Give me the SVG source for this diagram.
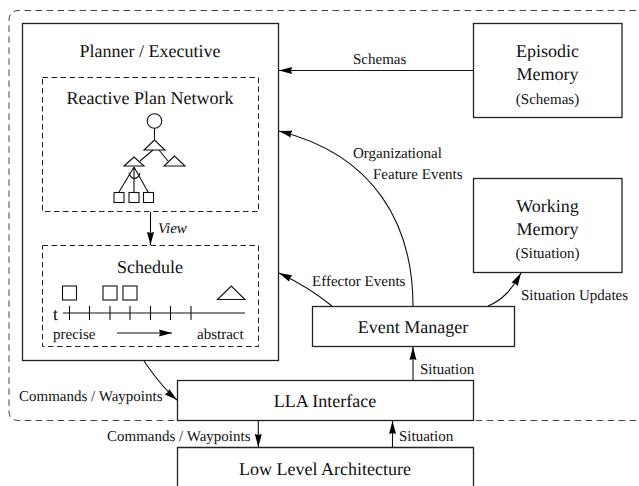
<svg xmlns="http://www.w3.org/2000/svg" width="639" height="486" viewBox="0 0 639 486">
<defs>
<marker id="a" markerUnits="userSpaceOnUse" markerWidth="14" markerHeight="8" refX="13" refY="4" orient="auto"><path d="M0 .5 L13 4 L0 7.500 L1 4Z" fill="#000"/></marker>
</defs>
<style>
text{font-family:"Liberation Serif","Times New Roman",serif;fill:#111;text-rendering:geometricPrecision}
.n{fill:#fff;stroke:#222;stroke-width:1.3}
.d{fill:none;stroke:#222;stroke-width:1;stroke-dasharray:5.5 3.500}
.o{fill:none;stroke:#444;stroke-width:1;stroke-dasharray:6.500 4.500}
.l{font-size:18px;text-anchor:middle}
.s{font-size:15px}
.m{font-size:15px;text-anchor:middle}
.c{fill:none;stroke:#111;stroke-width:1.1}
.g{fill:#fff;stroke:#111;stroke-width:1.1}
</style>
<path id="outer-boundary" d="M636 10.500H19Q9 10.500 9 20.500V411Q9 420.500 19 420.500H637" class="o"/>
<g id="planner">
<rect x="22.500" y="23.500" width="256" height="337" class="n"/>
<text x="150" y="57" class="l">Planner / Executive</text>
</g>
<g id="reactive-plan-network">
<rect x="42.500" y="77.500" width="216" height="134" class="d"/>
<text x="150" y="104" class="l">Reactive Plan Network</text>
<circle cx="154.500" cy="121" r="7.300" class="g"/>
<path d="M154.500 128V140M153 150L140 161M159 150L168 161" class="c"/>
<path d="M154.500 140L144 150H165Z M174.500 156L164 166H185Z M134 157L124 166H144Z" class="g"/>
<path d="M134 167L119 192M134 167V192M134 167L148 192" class="c"/>
<path d="M129 173A6 9 0 0 0 140 173" class="c"/>
<rect x="114" y="192.500" width="10" height="10" class="g"/>
<rect x="129" y="192.500" width="10" height="10" class="g"/>
<rect x="143.500" y="192.500" width="10" height="10" class="g"/>
</g>
<g id="schedule">
<rect x="42.500" y="245.500" width="216" height="101" class="d"/>
<text x="150" y="273" class="l">Schedule</text>
<rect x="62.500" y="286" width="14" height="14" class="g"/>
<rect x="103" y="286" width="14" height="14" class="g"/>
<rect x="123" y="286" width="14" height="14" class="g"/>
<path d="M217.500 299.500L231.300 286L245 299.500Z" class="g"/>
<text x="53" y="320" font-size="18">t</text>
<path d="M63 313H245M69.500 306V320M89.500 306V320M110 306V320M130 306V320M150.500 306V320M170.500 306V320M191 306V320" class="c"/>
<text x="53" y="339" class="s">precise</text>
<text x="197" y="339" class="s">abstract</text>
<path d="M117 333H172" class="c" marker-end="url(#a)"/>
</g>
<g id="episodic-memory">
<rect x="473.500" y="23.500" width="148.500" height="94" class="n"/>
<text x="547.500" y="57" class="l">Episodic</text>
<text x="547.500" y="80" class="l">Memory</text>
<text x="547.500" y="104" class="m">(Schemas)</text>
</g>
<g id="working-memory">
<rect x="473.500" y="178.500" width="148.500" height="94" class="n"/>
<text x="547.500" y="212" class="l">Working</text>
<text x="547.500" y="235" class="l">Memory</text>
<text x="547.500" y="258" class="m">(Situation)</text>
</g>
<g id="event-manager">
<rect x="312.500" y="306.500" width="202" height="40" class="n"/>
<text x="413" y="333" class="l">Event Manager</text>
</g>
<g id="lla-interface">
<rect x="177.500" y="380.500" width="296" height="40" class="n"/>
<text x="325" y="407" class="l">LLA Interface</text>
</g>
<g id="low-level-architecture">
<path d="M177.500 486V447.500H473.500V486" class="n"/>
<text x="325" y="475" class="l">Low Level Architecture</text>
</g>
<g id="connectors">
<path d="M473 70.500H279" class="c" marker-end="url(#a)"/>
<path d="M413 306C413 225 375 155 279 131" class="c" marker-end="url(#a)"/>
<path d="M332 306C316 293 298 282 279 273" class="c" marker-end="url(#a)"/>
<path d="M488 306C503 300 512 289 521 273" class="c" marker-end="url(#a)"/>
<path d="M413 380V347" class="c" marker-end="url(#a)"/>
<path d="M144 361C155 377 165 390 177 400" class="c" marker-end="url(#a)"/>
<path d="M258.300 421V447" class="c" marker-end="url(#a)"/>
<path d="M392.500 447V421" class="c" marker-end="url(#a)"/>
<path d="M150.500 212V245" class="c" marker-end="url(#a)"/>
</g>
<g id="labels">
<text x="353" y="64" class="s">Schemas</text>
<text x="353" y="158" class="s">Organizational</text>
<text x="373" y="179" class="s">Feature Events</text>
<text x="312" y="286" class="s">Effector Events</text>
<text x="521" y="300" class="s">Situation Updates</text>
<text x="420" y="374" class="s">Situation</text>
<text x="19" y="401" class="s">Commands / Waypoints</text>
<text x="107" y="441" class="s">Commands / Waypoints</text>
<text x="399" y="441" class="s">Situation</text>
<text x="158" y="233" class="s" font-style="italic">View</text>
</g>
</svg>
